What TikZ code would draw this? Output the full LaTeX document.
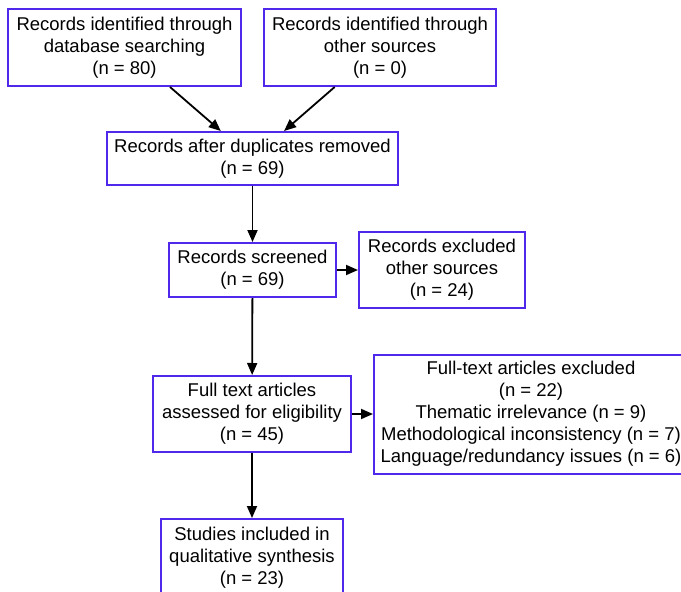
\documentclass[tikz,border=0pt]{standalone}
\usepackage{fontspec}
\setmainfont{Liberation Sans}
\usetikzlibrary{arrows.meta}
\definecolor{boxblue}{RGB}{80,40,235}
\tikzset{
  box/.style={draw=boxblue, line width=2pt, align=center, inner sep=0pt,
    font=\fontsize{18.5}{22}\selectfont},
  link/.style={-{Triangle[length=12pt,width=10pt]}, line width=1.8pt}
}
\begin{document}
\begin{tikzpicture}[x=1pt,y=-1pt]
    \clip (0,0) rectangle (681,592);
    % identification
    \node[box,minimum width=233pt,minimum height=77pt] (db) at (124.5,47.5)
      {Records identified through\\database searching\\(n = 80)};
    \node[box,minimum width=232pt,minimum height=77pt] (other) at (380,47.5)
      {Records identified through\\other sources\\(n = 0)};
    \node[box,minimum width=291pt,minimum height=53pt] (dup) at (252.5,158.5)
      {Records after duplicates removed\\(n = 69)};
    % screening
    \node[box,minimum width=167pt,minimum height=54pt] (screen) at (252.5,270)
      {Records screened\\(n = 69)};
    \node[box,minimum width=166pt,minimum height=76pt] (excl) at (442,270)
      {Records excluded\\other sources\\(n = 24)};
    % eligibility
    \node[box,minimum width=198pt,minimum height=76pt] (full) at (252,414)
      {Full text articles\\assessed for eligibility\\(n = 45)};
    \node[box,minimum width=314pt,minimum height=119pt] (fullexcl) at (531,414)
      {Full-text articles excluded\\(n = 22)\\Thematic irrelevance (n = 9)\\
       Methodological inconsistency (n = 7)\\Language/redundancy issues (n = 6)};
    % included
    \node[box,minimum width=182pt,minimum height=77pt] (incl) at (252,557.5)
      {Studies included in\\qualitative synthesis\\(n = 23)};
    \draw[link] (db) -- (dup);
    \draw[link] (other) -- (dup);
    \draw[link] (dup) -- (screen);
    \draw[link] (screen) -- (excl);
    \draw[link] (screen) -- (full);
    \draw[link] (full) -- (fullexcl);
    \draw[link] (full) -- (incl);
  \end{tikzpicture}
\end{document}
